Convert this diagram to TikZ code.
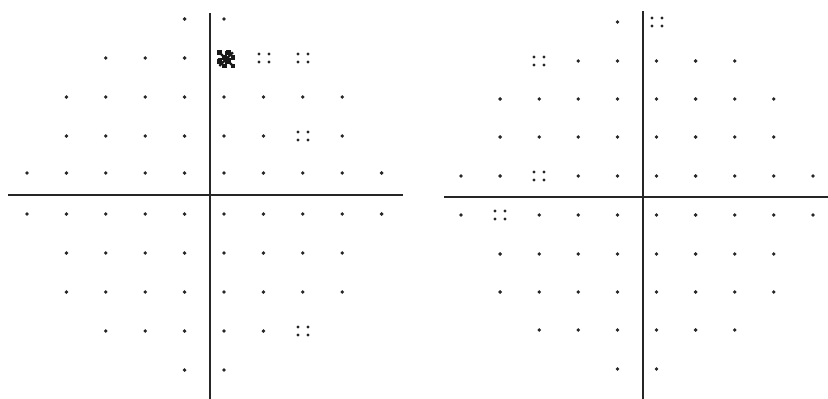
\documentclass[tikz,border=0pt]{standalone}
\begin{document}
\begin{tikzpicture}[x=1pt,y=-1pt]
\tikzset{
  dotsty/.style={fill=black!85,draw=none},
  axisline/.style={line width=1.8pt,draw=black!85},
  blank/.style={fill=white,draw=none}
}
\useasboundingbox[fill=white] (0,0) rectangle (828,399);
% ---------- axes ----------
\draw[axisline] (210,13) -- (210,399);
\draw[axisline] (8,195) -- (403,195);
\draw[axisline] (643,11) -- (643,399);
\draw[axisline] (444,197) -- (828,197);
% ---------- left chart dots ----------
\foreach \y/\a/\b in {19/4/5,58/2/7,97/1/8,136/1/8,173/0/9,214/0/9,253/1/8,292/1/8,331/2/7,370/4/5}{
  \foreach \i in {\a,...,\b}{
    \fill[dotsty] ({27+39.4*\i},\y) circle[radius=1.9pt];
  }
}
% ---------- right chart dots ----------
\foreach \y/\a/\b in {22/4/5,61/2/7,99/1/8,137/1/8,176/0/9,215/0/9,254/1/8,292/1/8,330/2/7,369/4/5}{
  \foreach \i in {\a,...,\b}{
    \fill[dotsty] ({461+39.1*\i},\y) circle[radius=1.9pt];
  }
}
% ---------- quad symbols ----------
\foreach \x/\y in {264/58,303/58,303/136,303/331,657/22,539/61,539/176,500/215}{
  \fill[blank] (\x,\y) circle[radius=3pt];
  \foreach \dx in {-5,5}{\foreach \dy in {-4,4}{
    \fill[dotsty] (\x+\dx,\y+\dy) circle[radius=1.7pt];
  }}
}
% ---------- dark symbol ----------
\fill[blank] (225,58) circle[radius=3pt];
\begin{scope}[shift={(217,50)}]
  \foreach \i in {0,...,3}{\foreach \j in {0,...,3}{
    \pgfmathtruncatemacro\s{mod(\i+\j,2)}
    \ifnum\s=0
      \fill[black!90] (\i*4.6,\j*4.6) rectangle ++(4.6,4.6);
    \fi
  }}
  \draw[black!90,line width=2.2pt] (2.3,2.3) -- (16,16);
  \draw[black!90,line width=2.2pt] (16,2.3) -- (2.3,16);
  \draw[black!90,line width=1.8pt] (0.5,9.2) -- (18,9.2);
  \draw[black!90,line width=1.8pt] (9.2,0.5) -- (9.2,18);
\end{scope}
\end{tikzpicture}
\end{document}
